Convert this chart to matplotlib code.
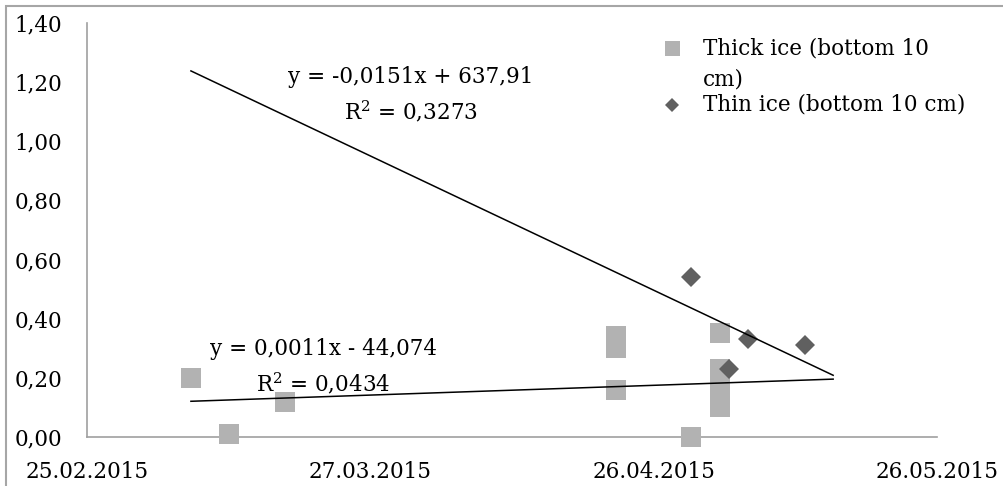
import numpy as np
import pandas as pd
import matplotlib
matplotlib.use("Agg")
import matplotlib.pyplot as plt
import matplotlib.dates as mdates
from matplotlib.ticker import FuncFormatter
from matplotlib.lines import Line2D
from matplotlib.patches import Rectangle

# thick ice (bottom 10 cm)
thick_dates = ["2015-03-08", "2015-03-12", "2015-03-18",
               "2015-04-22", "2015-04-22", "2015-04-22",
               "2015-04-30", "2015-04-30",
               "2015-05-03", "2015-05-03", "2015-05-03", "2015-05-03", "2015-05-03"]
thick_vals = [0.20, 0.01, 0.12,
              0.34, 0.30, 0.16,
              0.00, 0.00,
              0.35, 0.23, 0.20, 0.15, 0.10]

# thin ice (bottom 10 cm)
thin_dates = ["2015-04-30", "2015-05-04", "2015-05-06", "2015-05-12"]
thin_vals = [0.54, 0.23, 0.33, 0.31]

# trendline span (shared date column)
trend_span = ["2015-03-08", "2015-05-15"]

x_ticks = ["2015-02-25", "2015-03-27", "2015-04-26", "2015-05-26"]
y_ticks = [0.0, 0.2, 0.4, 0.6, 0.8, 1.0, 1.2, 1.4]

eq_thin = "y = -0,0151x + 637,91\nR$^2$ = 0,3273"
eq_thick = "y = 0,0011x - 44,074\nR$^2$ = 0,0434"
labels = ["Thick ice (bottom 10\ncm)", "Thin ice (bottom 10 cm)"]

plt.rcParams['font.family'] = ['DejaVu Serif']
plt.rcParams['mathtext.fontset'] = 'dejavuserif'
plt.rcParams['font.size'] = 15.5

def to_num(d):
    return mdates.date2num(pd.to_datetime(d))

xt = to_num(thick_dates)
xn = to_num(thin_dates)
xs = to_num(trend_span)
xk = to_num(x_ticks)

thick_col = '#b2b2b2'
thin_col = '#606060'

fig = plt.figure(figsize=(10.04, 4.86), dpi=100)
ax = fig.add_axes([0.0867, 0.1008, 0.8466, 0.852])

# outer chart border
fig.patches.append(Rectangle((0.006, -0.05), 1.5, 1.038, transform=fig.transFigure,
                             fill=False, edgecolor='#a6a6a6', linewidth=1.5))

ax.plot(xt, thick_vals, 's', color=thick_col, markersize=14.4, markeredgewidth=0,
        linestyle='none', zorder=2, clip_on=False)
ax.plot(xn, thin_vals, 'D', color=thin_col, markersize=10.3, markeredgewidth=0,
        linestyle='none', zorder=3, clip_on=False)

# linear trendlines
xx = np.linspace(xs[0], xs[1], 50)
p_thin = np.polyfit(xn, thin_vals, 1)
p_thick = np.polyfit(xt, thick_vals, 1)
ax.plot(xx, np.polyval(p_thin, xx), color='black', linewidth=1.1, zorder=4)
ax.plot(xx, np.polyval(p_thick, xx), color='black', linewidth=1.1, zorder=4)

ax.text(0.381, 0.826, eq_thin, transform=ax.transAxes, ha='center', va='center',
        linespacing=1.5)
ax.text(0.278, 0.168, eq_thick, transform=ax.transAxes, ha='center', va='center',
        linespacing=1.5)

ax.set_xlim(xk[0], xk[-1])
ax.set_ylim(0, 1.4)
ax.set_xticks(xk)
ax.set_xticklabels(pd.to_datetime(x_ticks).strftime("%d.%m.%Y"))
ax.set_yticks(y_ticks)
ax.yaxis.set_major_formatter(FuncFormatter(lambda v, p: f"{v:.2f}".replace('.', ',')))
ax.tick_params(axis='x', length=0, pad=17)
ax.tick_params(axis='y', length=0, pad=18)

for s in ['top', 'right']:
    ax.spines[s].set_visible(False)
for s in ['left', 'bottom']:
    ax.spines[s].set_color('#a0a0a0')
    ax.spines[s].set_linewidth(1.2)
ax.spines['bottom'].set_zorder(1)

# legend, drawn by hand so the key sits on the first line of a wrapped label
W, H = 1004, 486
fig.add_artist(Line2D([672 / W], [1 - 48 / H], marker='s', color=thick_col,
                      markersize=10.8, markeredgewidth=0, linestyle='none'))
fig.add_artist(Line2D([672 / W], [1 - 105 / H], marker='D', color=thin_col,
                      markersize=7.6, markeredgewidth=0, linestyle='none'))
fig.text(703 / W, 1 - 38 / H, labels[0], ha='left', va='top', linespacing=1.5)
fig.text(703 / W, 1 - 105 / H, labels[1], ha='left', va='center')

fig.savefig("out.png", dpi=100)
